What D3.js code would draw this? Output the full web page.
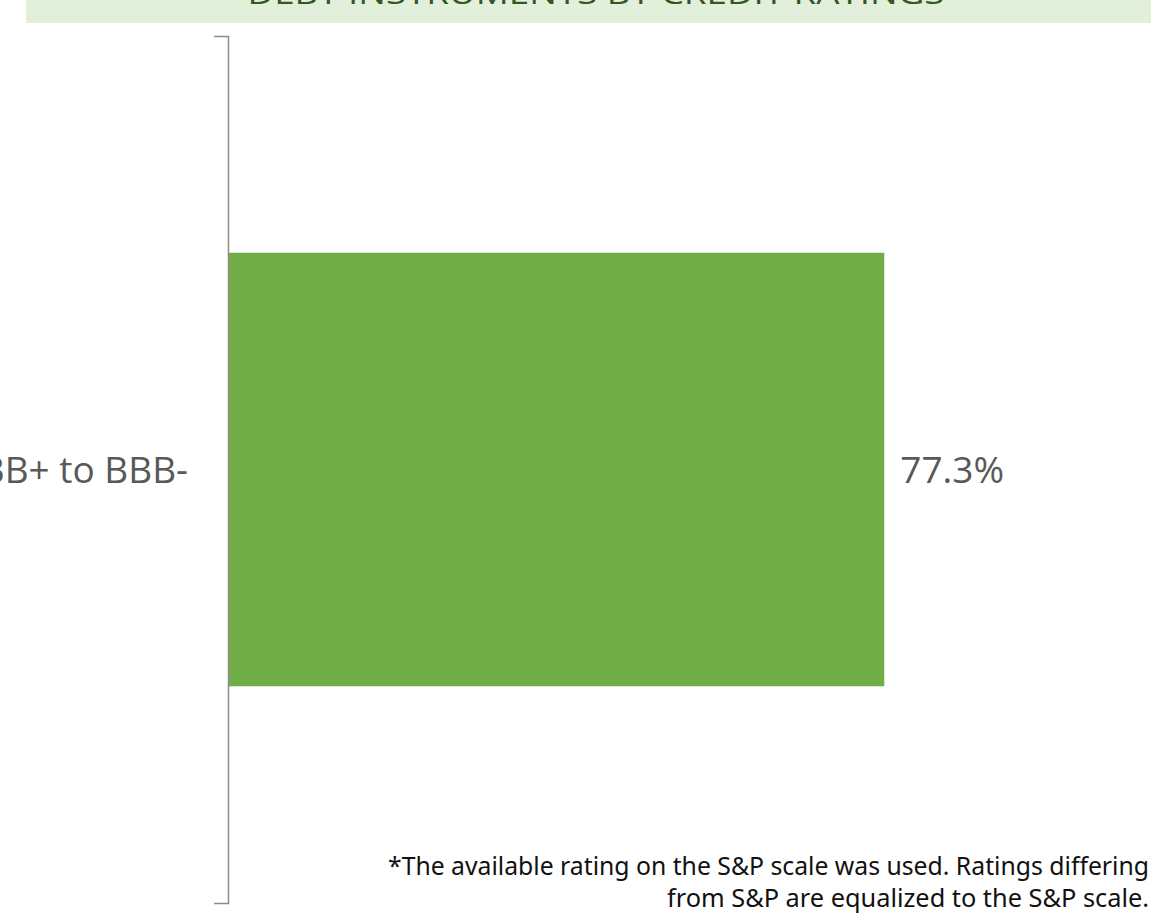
<!DOCTYPE html>
<html>
<head>
    <meta charset="utf-8">
    <title>Debt instruments by credit ratings</title>
    <script src="https://d3js.org/d3.v7.min.js"></script>
    <style>
        body { margin: 0; background: #ffffff; }
        svg { display: block; }
    </style>
</head>
<body>
    <script>
        // chart data
        var categories = ["BBB+ to BBB-"];
        var values = [77.3];
        var valueLabels = ["77.3%"];
        var titleText = "DEBT INSTRUMENTS BY CREDIT RATINGS";
        var footnoteLines = [
            "*The available rating on the S&P scale was used. Ratings differing",
            "from S&P are equalized to the S&P scale."
        ];

        var width = 1151;
        var height = 917;

        var svg = d3.select("body").append("svg")
            .attr("width", width)
            .attr("height", height);

        // title banner (cut off at the top of the picture)
        svg.append("rect")
            .attr("x", 26)
            .attr("y", 0)
            .attr("width", width - 26)
            .attr("height", 23)
            .style("fill", "#e2efda");

        svg.append("text")
            .attr("x", 596)
            .attr("y", 4)
            .attr("text-anchor", "middle")
            .attr("textLength", 697)
            .attr("lengthAdjust", "spacingAndGlyphs")
            .style("font-family", "'Open Sans', sans-serif")
            .style("font-size", "30px")
            .style("fill", "#375623")
            .text(titleText);

        var x = d3.scaleLinear()
            .domain([0, 100])
            .range([228, 1077]);

        var y = d3.scaleBand()
            .domain(categories)
            .range([36, 903])
            .padding(1 / 3);

        // bars
        svg.selectAll(".bar")
            .data(values)
            .enter().append("rect")
            .attr("class", "bar")
            .attr("x", x(0))
            .attr("y", (d, i) => y(categories[i]))
            .attr("width", d => x(d) - x(0))
            .attr("height", y.bandwidth())
            .style("fill", "#70ad47");

        // value labels
        svg.selectAll(".value")
            .data(values)
            .enter().append("text")
            .attr("class", "value")
            .attr("x", d => x(d) + 16)
            .attr("y", (d, i) => y(categories[i]) + y.bandwidth() / 2)
            .attr("dy", "0.36em")
            .style("font-family", "'Open Sans', sans-serif")
            .style("font-size", "37px")
            .style("fill", "#595959")
            .text((d, i) => valueLabels[i]);

        // category axis: bracket-shaped domain line like the original
        var axis = svg.append("g")
            .attr("transform", "translate(" + x(0) + ",0)")
            .call(d3.axisLeft(y).tickSizeInner(0).tickSizeOuter(14).tickPadding(40));

        axis.select(".domain")
            .style("stroke", "#8c8c8c")
            .style("stroke-width", 1.5);

        axis.selectAll(".tick text")
            .attr("dy", "0.36em")
            .style("font-family", "'Open Sans', sans-serif")
            .style("font-size", "37px")
            .style("fill", "#595959");

        // footnote, right aligned at the bottom
        var footWidths = [761, 482];
        svg.selectAll(".foot")
            .data(footnoteLines)
            .enter().append("text")
            .attr("class", "foot")
            .attr("x", 1149)
            .attr("y", (d, i) => 875 + i * 32)
            .attr("text-anchor", "end")
            .attr("textLength", (d, i) => footWidths[i])
            .attr("lengthAdjust", "spacingAndGlyphs")
            .style("font-family", "'Noto Sans', sans-serif")
            .style("font-size", "26px")
            .style("fill", "#111111")
            .text(d => d);
    </script>
</body>
</html>
